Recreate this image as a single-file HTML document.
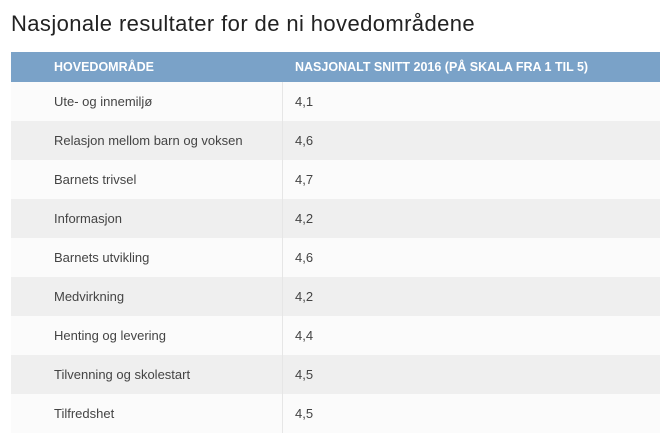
<!DOCTYPE html>
<html><head><meta charset="utf-8"><style>
body{margin:0;width:670px;height:447px;background:#fff;font-family:"Liberation Sans","DejaVu Sans",sans-serif;overflow:hidden;position:relative}
h1{position:absolute;left:11px;top:11px;margin:0;font-size:22px;font-weight:normal;color:#222;letter-spacing:0.4px}
table{position:absolute;left:11px;top:52px;width:649px;border-collapse:collapse}
th{background:#7aa2c8;color:#fff;font-size:12.5px;font-weight:bold;text-align:left;height:30px;padding:0}
td{height:39px;padding:0;font-size:13px;color:#444}
th:first-child,td:first-child{padding-left:43px;width:228px;border-right:1px solid #e6e6e6}
th:first-child{border-right:1px solid #7aa2c8}
th:last-child,td:last-child{padding-left:12px}
tr:nth-child(odd) td{background:#fbfbfb}
tr:nth-child(even) td{background:#efefef}
</style></head><body>
<h1>Nasjonale resultater for de ni hovedområdene</h1>
<table>
<thead><tr><th>HOVEDOMRÅDE</th><th>NASJONALT SNITT 2016 (PÅ SKALA FRA 1 TIL 5)</th></tr></thead>
<tbody>
<tr><td>Ute- og innemiljø</td><td>4,1</td></tr>
<tr><td>Relasjon mellom barn og voksen</td><td>4,6</td></tr>
<tr><td>Barnets trivsel</td><td>4,7</td></tr>
<tr><td>Informasjon</td><td>4,2</td></tr>
<tr><td>Barnets utvikling</td><td>4,6</td></tr>
<tr><td>Medvirkning</td><td>4,2</td></tr>
<tr><td>Henting og levering</td><td>4,4</td></tr>
<tr><td>Tilvenning og skolestart</td><td>4,5</td></tr>
<tr><td>Tilfredshet</td><td>4,5</td></tr>
</tbody></table>
</body></html>
